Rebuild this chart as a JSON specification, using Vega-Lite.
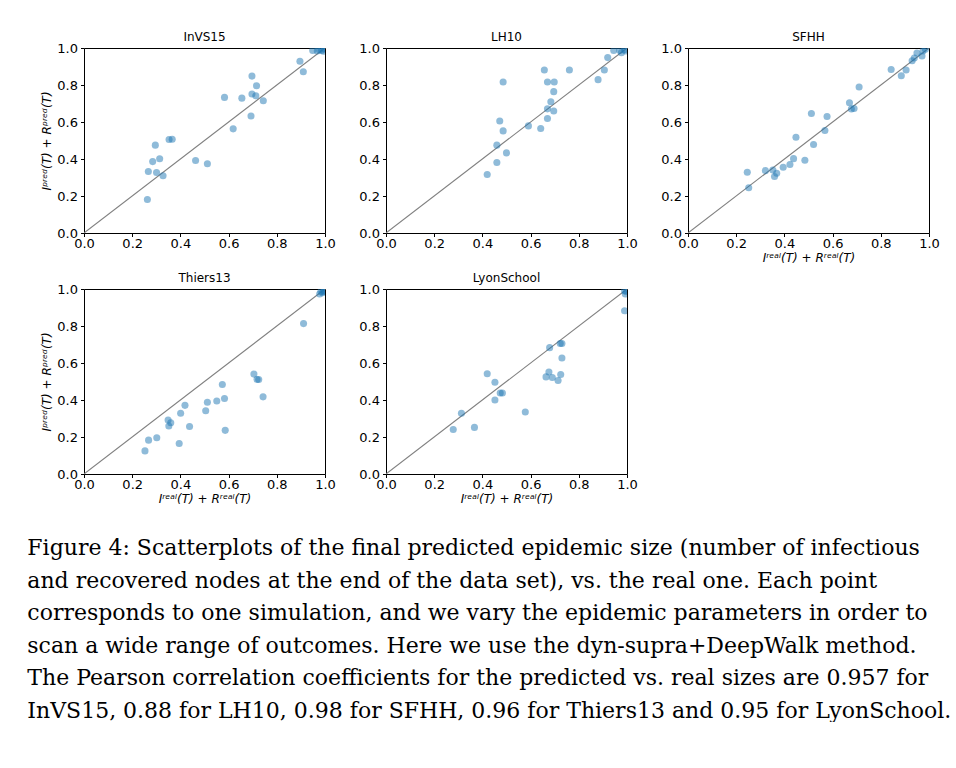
{
  "$schema": "https://vega.github.io/schema/vega-lite/v6.json",
  "background": "white",
  "padding": {"left": 27, "top": 30, "right": 0, "bottom": 0},
  "title": {
    "text": [
      "Figure 4: Scatterplots of the final predicted epidemic size (number of infectious",
      "and recovered nodes at the end of the data set), vs. the real one. Each point",
      "corresponds to one simulation, and we vary the epidemic parameters in order to",
      "scan a wide range of outcomes. Here we use the dyn-supra+DeepWalk method.",
      "The Pearson correlation coefficients for the predicted vs. real sizes are 0.957 for",
      "InVS15, 0.88 for LH10, 0.98 for SFHH, 0.96 for Thiers13 and 0.95 for LyonSchool."
    ],
    "orient": "bottom",
    "anchor": "start",
    "frame": "bounds",
    "font": "DejaVu Serif",
    "fontSize": 22,
    "fontWeight": "normal",
    "lineHeight": 32.5,
    "color": "black",
    "offset": 33,
    "dx": -13
  },
  "columns": 3,
  "spacing": {"row": 56, "column": 61},
  "bounds": "flush",
  "datasets": {
    "diag": [{"x": 0, "y": 0}, {"x": 1, "y": 1}],
    "InVS15": [
      {"x": 0.263, "y": 0.181}, {"x": 0.267, "y": 0.332}, {"x": 0.285, "y": 0.386}, {"x": 0.296, "y": 0.475},
      {"x": 0.301, "y": 0.327}, {"x": 0.314, "y": 0.401}, {"x": 0.328, "y": 0.309}, {"x": 0.353, "y": 0.505},
      {"x": 0.366, "y": 0.507}, {"x": 0.463, "y": 0.392}, {"x": 0.512, "y": 0.374}, {"x": 0.583, "y": 0.733},
      {"x": 0.619, "y": 0.563}, {"x": 0.655, "y": 0.729}, {"x": 0.693, "y": 0.632}, {"x": 0.697, "y": 0.848},
      {"x": 0.697, "y": 0.751}, {"x": 0.713, "y": 0.742}, {"x": 0.716, "y": 0.796}, {"x": 0.744, "y": 0.715},
      {"x": 0.896, "y": 0.928}, {"x": 0.910, "y": 0.872}, {"x": 0.949, "y": 0.987}, {"x": 0.968, "y": 0.984},
      {"x": 0.976, "y": 0.991}, {"x": 0.986, "y": 0.987}, {"x": 0.993, "y": 0.982}, {"x": 0.998, "y": 0.995}
    ],
    "LH10": [
      {"x": 0.420, "y": 0.316}, {"x": 0.460, "y": 0.381}, {"x": 0.460, "y": 0.475}, {"x": 0.472, "y": 0.605},
      {"x": 0.486, "y": 0.552}, {"x": 0.486, "y": 0.816}, {"x": 0.500, "y": 0.433}, {"x": 0.591, "y": 0.579},
      {"x": 0.642, "y": 0.565}, {"x": 0.657, "y": 0.881}, {"x": 0.670, "y": 0.619}, {"x": 0.670, "y": 0.671},
      {"x": 0.670, "y": 0.816}, {"x": 0.684, "y": 0.709}, {"x": 0.696, "y": 0.659}, {"x": 0.696, "y": 0.764},
      {"x": 0.698, "y": 0.816}, {"x": 0.761, "y": 0.881}, {"x": 0.880, "y": 0.829}, {"x": 0.906, "y": 0.881},
      {"x": 0.920, "y": 0.948}, {"x": 0.945, "y": 0.987}, {"x": 0.970, "y": 0.987}, {"x": 0.977, "y": 0.975},
      {"x": 0.990, "y": 0.991}, {"x": 0.994, "y": 0.984}
    ],
    "SFHH": [
      {"x": 0.246, "y": 0.328}, {"x": 0.252, "y": 0.245}, {"x": 0.321, "y": 0.337}, {"x": 0.352, "y": 0.341},
      {"x": 0.359, "y": 0.305}, {"x": 0.368, "y": 0.323}, {"x": 0.395, "y": 0.355}, {"x": 0.423, "y": 0.370},
      {"x": 0.438, "y": 0.402}, {"x": 0.448, "y": 0.518}, {"x": 0.485, "y": 0.393}, {"x": 0.512, "y": 0.646},
      {"x": 0.521, "y": 0.478}, {"x": 0.568, "y": 0.554}, {"x": 0.577, "y": 0.630}, {"x": 0.670, "y": 0.704},
      {"x": 0.678, "y": 0.670}, {"x": 0.689, "y": 0.673}, {"x": 0.710, "y": 0.789}, {"x": 0.843, "y": 0.884},
      {"x": 0.885, "y": 0.850}, {"x": 0.905, "y": 0.881}, {"x": 0.930, "y": 0.931}, {"x": 0.939, "y": 0.946},
      {"x": 0.950, "y": 0.973}, {"x": 0.971, "y": 0.957}, {"x": 0.975, "y": 0.984}, {"x": 0.985, "y": 0.993}
    ],
    "Thiers13": [
      {"x": 0.253, "y": 0.125}, {"x": 0.268, "y": 0.183}, {"x": 0.302, "y": 0.196}, {"x": 0.349, "y": 0.292},
      {"x": 0.352, "y": 0.259}, {"x": 0.360, "y": 0.277}, {"x": 0.395, "y": 0.165}, {"x": 0.401, "y": 0.328},
      {"x": 0.419, "y": 0.371}, {"x": 0.438, "y": 0.257}, {"x": 0.505, "y": 0.342}, {"x": 0.512, "y": 0.388},
      {"x": 0.551, "y": 0.395}, {"x": 0.574, "y": 0.484}, {"x": 0.583, "y": 0.408}, {"x": 0.586, "y": 0.236},
      {"x": 0.705, "y": 0.540}, {"x": 0.718, "y": 0.511}, {"x": 0.725, "y": 0.511}, {"x": 0.743, "y": 0.417},
      {"x": 0.911, "y": 0.813}, {"x": 0.978, "y": 0.973}, {"x": 0.983, "y": 0.986}, {"x": 0.994, "y": 0.986},
      {"x": 0.990, "y": 0.980}, {"x": 0.998, "y": 0.990}
    ],
    "LyonSchool": [
      {"x": 0.279, "y": 0.241}, {"x": 0.313, "y": 0.328}, {"x": 0.367, "y": 0.252}, {"x": 0.420, "y": 0.542},
      {"x": 0.452, "y": 0.496}, {"x": 0.452, "y": 0.400}, {"x": 0.474, "y": 0.438}, {"x": 0.483, "y": 0.438},
      {"x": 0.578, "y": 0.335}, {"x": 0.664, "y": 0.525}, {"x": 0.676, "y": 0.551}, {"x": 0.679, "y": 0.683},
      {"x": 0.690, "y": 0.522}, {"x": 0.714, "y": 0.505}, {"x": 0.725, "y": 0.538}, {"x": 0.723, "y": 0.705},
      {"x": 0.730, "y": 0.705}, {"x": 0.730, "y": 0.627}, {"x": 0.990, "y": 0.882}, {"x": 0.993, "y": 0.973},
      {"x": 0.990, "y": 0.991}, {"x": 0.997, "y": 0.987}
    ]
  },
  "concat": [
    {
      "title": "InVS15",
      "width": 241, "height": 185,
      "encoding": {
        "x": {"field": "x", "type": "quantitative", "scale": {"domain": [0, 1], "nice": false}, "axis": {"title": null, "values": [0, 0.2, 0.4, 0.6, 0.8, 1], "format": ".1f"}},
        "y": {"field": "y", "type": "quantitative", "scale": {"domain": [0, 1], "nice": false}, "axis": {"title": "Iᵖʳᵉᵈ(T) + Rᵖʳᵉᵈ(T)", "values": [0, 0.2, 0.4, 0.6, 0.8, 1], "format": ".1f"}}
      },
      "layer": [
        {"data": {"name": "diag"}, "mark": {"type": "line", "color": "#808080", "strokeWidth": 1.1, "clip": true}},
        {"data": {"name": "InVS15"}, "mark": {"type": "circle", "size": 50, "opacity": 0.5, "color": "#1f77b4", "clip": true}}
      ]
    },
    {
      "title": "LH10",
      "width": 241, "height": 185,
      "encoding": {
        "x": {"field": "x", "type": "quantitative", "scale": {"domain": [0, 1], "nice": false}, "axis": {"title": null, "values": [0, 0.2, 0.4, 0.6, 0.8, 1], "format": ".1f"}},
        "y": {"field": "y", "type": "quantitative", "scale": {"domain": [0, 1], "nice": false}, "axis": {"title": null, "values": [0, 0.2, 0.4, 0.6, 0.8, 1], "format": ".1f"}}
      },
      "layer": [
        {"data": {"name": "diag"}, "mark": {"type": "line", "color": "#808080", "strokeWidth": 1.1, "clip": true}},
        {"data": {"name": "LH10"}, "mark": {"type": "circle", "size": 50, "opacity": 0.5, "color": "#1f77b4", "clip": true}}
      ]
    },
    {
      "title": "SFHH",
      "width": 241, "height": 185,
      "encoding": {
        "x": {"field": "x", "type": "quantitative", "scale": {"domain": [0, 1], "nice": false}, "axis": {"title": "Iʳᵉᵃˡ(T) + Rʳᵉᵃˡ(T)", "values": [0, 0.2, 0.4, 0.6, 0.8, 1], "format": ".1f"}},
        "y": {"field": "y", "type": "quantitative", "scale": {"domain": [0, 1], "nice": false}, "axis": {"title": null, "values": [0, 0.2, 0.4, 0.6, 0.8, 1], "format": ".1f"}}
      },
      "layer": [
        {"data": {"name": "diag"}, "mark": {"type": "line", "color": "#808080", "strokeWidth": 1.1, "clip": true}},
        {"data": {"name": "SFHH"}, "mark": {"type": "circle", "size": 50, "opacity": 0.5, "color": "#1f77b4", "clip": true}}
      ]
    },
    {
      "title": "Thiers13",
      "width": 241, "height": 185,
      "encoding": {
        "x": {"field": "x", "type": "quantitative", "scale": {"domain": [0, 1], "nice": false}, "axis": {"title": "Iʳᵉᵃˡ(T) + Rʳᵉᵃˡ(T)", "values": [0, 0.2, 0.4, 0.6, 0.8, 1], "format": ".1f"}},
        "y": {"field": "y", "type": "quantitative", "scale": {"domain": [0, 1], "nice": false}, "axis": {"title": "Iᵖʳᵉᵈ(T) + Rᵖʳᵉᵈ(T)", "values": [0, 0.2, 0.4, 0.6, 0.8, 1], "format": ".1f"}}
      },
      "layer": [
        {"data": {"name": "diag"}, "mark": {"type": "line", "color": "#808080", "strokeWidth": 1.1, "clip": true}},
        {"data": {"name": "Thiers13"}, "mark": {"type": "circle", "size": 50, "opacity": 0.5, "color": "#1f77b4", "clip": true}}
      ]
    },
    {
      "title": "LyonSchool",
      "width": 241, "height": 185,
      "encoding": {
        "x": {"field": "x", "type": "quantitative", "scale": {"domain": [0, 1], "nice": false}, "axis": {"title": "Iʳᵉᵃˡ(T) + Rʳᵉᵃˡ(T)", "values": [0, 0.2, 0.4, 0.6, 0.8, 1], "format": ".1f"}},
        "y": {"field": "y", "type": "quantitative", "scale": {"domain": [0, 1], "nice": false}, "axis": {"title": null, "values": [0, 0.2, 0.4, 0.6, 0.8, 1], "format": ".1f"}}
      },
      "layer": [
        {"data": {"name": "diag"}, "mark": {"type": "line", "color": "#808080", "strokeWidth": 1.1, "clip": true}},
        {"data": {"name": "LyonSchool"}, "mark": {"type": "circle", "size": 50, "opacity": 0.5, "color": "#1f77b4", "clip": true}}
      ]
    }
  ],
  "config": {
    "view": {"stroke": "black", "strokeWidth": 1},
    "axis": {
      "grid": false, "domain": false, "ticks": true, "tickColor": "black", "tickSize": 3.5, "tickWidth": 1,
      "labelFont": "DejaVu Sans", "labelFontSize": 13, "labelColor": "black", "labelFlush": false, "labelOverlap": false,
      "titleFont": "DejaVu Sans", "titleFontSize": 12, "titleFontWeight": "normal", "titleColor": "black", "titleFontStyle": "italic"
    },
    "axisX": {"labelPadding": 1, "titlePadding": 2},
    "axisY": {"labelPadding": 3, "titlePadding": 3},
    "title": {"font": "DejaVu Sans", "fontSize": 12, "fontWeight": "normal", "color": "black", "offset": -2}
  }
}
